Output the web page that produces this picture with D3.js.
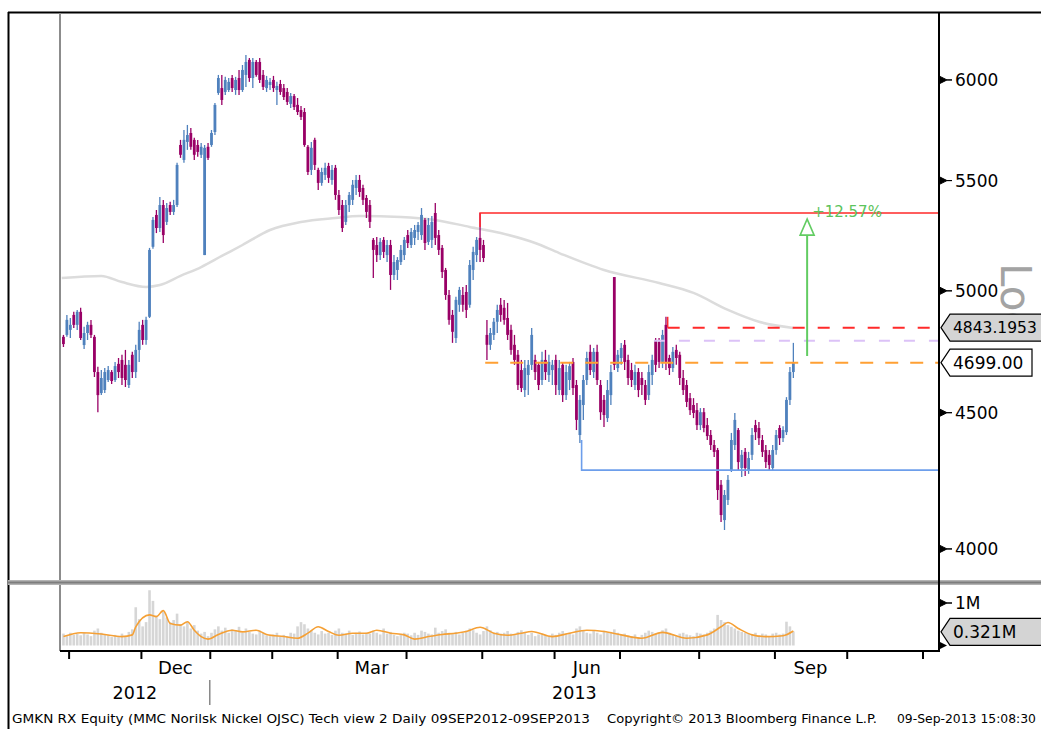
<!DOCTYPE html>
<html>
<head>
<meta charset="utf-8">
<script src="https://cdn.jsdelivr.net/npm/d3@7/dist/d3.min.js"></script>
<style>
body { margin:0; background:#fff; }
svg { display:block; font-family:"DejaVu Sans", sans-serif; }
</style>
</head>
<body>
<div id="chart-area"></div>
<script>
// GMKN RX daily bars, one entry per trading day (index 0 = late Oct 2012, 212 = 09 Sep 2013)
const open = [
  4805,4813,4834,4897,4855,4910,4771,4821,4855,4805,
  4661,4577,4589,4629,4661,4629,4694,4710,4690,4609,
  4731,4661,4751,4855,4792,4889,5194,5339,5279,5385,
  5307,5385,5353,5385,5672,5599,5687,5731,5697,5672,
  5624,5157,5663,5672,5736,5933,5958,5938,5948,6010,
  5948,6010,5948,6026,6105,6010,6094,6094,6026,5958,
  5974,6000,5948,5979,5958,5938,5877,5917,5872,5846,
  5836,5663,5551,5697,5551,5489,5527,5570,5503,5561,
  5432,5385,5307,5385,5409,5465,5503,5465,5418,5385,
  5225,5202,5157,5225,5157,5202,5069,5091,5126,5157,
  5247,5202,5234,5261,5247,5316,5216,5225,5348,5247,
  5189,5091,4982,4897,4800,4940,4982,4995,4940,5091,
  5157,5234,5202,4813,4772,4813,4868,4940,4927,4884,
  4834,4772,4731,4669,4589,4649,4690,4710,4690,4629,
  4710,4649,4669,4710,4589,4690,4569,4629,4702,4609,
  4414,4530,4629,4743,4661,4743,4609,4550,4479,4569,
  5060,4677,4718,4772,4710,4669,4609,4661,4637,4609,
  4569,4649,4792,4784,4702,4855,4718,4677,4751,4731,
  4637,4609,4557,4530,4510,4452,4502,4452,4414,4376,
  4357,4228,4101,4173,4282,4376,4433,4290,4350,4282,
  4339,4452,4441,4395,4357,4339,4290,4357,4441,4402,
  4425,4550,4661];
const high = [
  4813,4897,4884,4910,4918,4927,4847,4868,4876,4813,
  4682,4669,4677,4685,4669,4702,4718,4731,4751,4710,
  4743,4772,4868,4876,4889,5189,5330,5362,5423,5409,
  5395,5400,5409,5585,5697,5746,5771,5756,5707,5697,
  5682,5672,5682,5746,5882,6026,6026,6016,6010,6026,
  6016,6052,6078,6131,6115,6115,6105,6115,6052,6021,
  6010,6021,5990,6000,5979,5958,5933,5928,5907,5866,
  5856,5672,5687,5707,5561,5561,5585,5585,5575,5575,
  5456,5409,5409,5446,5503,5527,5527,5480,5432,5409,
  5234,5238,5234,5238,5225,5225,5157,5148,5202,5238,
  5270,5279,5293,5307,5371,5325,5325,5334,5395,5270,
  5202,5100,5004,4918,4974,5017,5017,5025,5135,5194,
  5238,5348,5225,4876,4842,4884,4940,4969,4961,4948,
  4855,4813,4751,4710,4710,4710,4842,4731,4702,4743,
  4751,4731,4710,4731,4710,4702,4690,4702,4718,4629,
  4569,4649,4743,4772,4759,4772,4629,4569,4629,4690,
  5060,4751,4780,4792,4731,4698,4690,4677,4661,4629,
  4690,4731,4800,4800,4834,4889,4731,4763,4772,4743,
  4669,4629,4577,4557,4538,4518,4518,4479,4433,4395,
  4365,4246,4209,4264,4422,4499,4441,4357,4365,4350,
  4441,4472,4464,4414,4376,4357,4376,4433,4452,4448,
  4561,4681,4780];
const low = [
  4763,4805,4800,4842,4834,4792,4755,4792,4800,4641,
  4502,4569,4577,4621,4613,4621,4637,4609,4601,4597,
  4637,4637,4702,4772,4772,4884,5185,5256,5261,5211,
  5293,5339,5339,5376,5609,5585,5648,5648,5599,5614,
  5609,5157,5599,5663,5721,5923,5872,5923,5938,5938,
  5923,5923,5938,5964,5990,5958,6016,5984,5948,5938,
  5948,5938,5872,5923,5897,5872,5856,5846,5821,5796,
  5663,5527,5527,5551,5456,5475,5503,5489,5480,5409,
  5339,5261,5293,5353,5385,5432,5423,5385,5325,5279,
  5056,5126,5135,5144,5126,5004,5047,5047,5113,5135,
  5189,5189,5202,5225,5225,5180,5202,5189,5202,5157,
  5056,4961,4855,4780,4780,4910,4910,4884,4927,5047,
  5126,5126,5126,4710,4751,4792,4821,4868,4855,4792,
  4731,4690,4589,4581,4561,4569,4669,4629,4589,4609,
  4629,4621,4609,4569,4569,4542,4550,4589,4569,4433,
  4384,4472,4609,4649,4637,4609,4472,4445,4464,4530,
  4669,4661,4690,4669,4609,4601,4589,4561,4569,4530,
  4550,4609,4661,4677,4677,4669,4649,4661,4690,4609,
  4569,4522,4491,4479,4433,4433,4425,4395,4357,4331,
  4173,4094,4066,4155,4275,4357,4282,4257,4260,4268,
  4320,4395,4376,4331,4290,4282,4282,4339,4376,4387,
  4414,4530,4637];
const close = [
  4775,4876,4855,4855,4910,4800,4821,4855,4813,4661,
  4569,4637,4661,4669,4625,4685,4661,4637,4629,4690,
  4661,4751,4834,4792,4876,5180,5316,5279,5385,5247,
  5371,5353,5385,5575,5624,5697,5721,5663,5624,5638,
  5663,5658,5609,5731,5872,6010,5897,6000,5990,5958,
  6000,5948,6052,6094,6010,6094,6026,6000,5964,6000,
  5990,5958,5969,5938,5912,5887,5917,5861,5836,5811,
  5672,5541,5658,5575,5489,5541,5561,5513,5551,5432,
  5362,5279,5385,5432,5480,5503,5446,5409,5353,5307,
  5180,5157,5216,5171,5202,5069,5126,5135,5180,5225,
  5211,5261,5270,5293,5339,5211,5293,5307,5234,5180,
  5082,4982,4876,4826,4961,5004,4940,4918,5113,5171,
  5225,5180,5144,4772,4821,4868,4918,4897,4876,4813,
  4751,4710,4609,4597,4677,4690,4813,4661,4609,4710,
  4661,4702,4690,4609,4677,4569,4661,4685,4597,4472,
  4550,4629,4718,4669,4743,4629,4502,4491,4589,4661,
  4690,4731,4759,4702,4637,4629,4661,4589,4609,4550,
  4661,4710,4690,4702,4813,4702,4677,4743,4718,4637,
  4589,4542,4510,4499,4452,4502,4441,4410,4376,4350,
  4209,4119,4191,4246,4395,4472,4312,4339,4290,4327,
  4414,4425,4402,4350,4312,4301,4357,4414,4402,4433,
  4550,4661,4699];
// volume in millions of shares
const volume = [
  0.28,0.22,0.30,0.25,0.27,0.24,0.30,0.26,0.22,0.35,
  0.40,0.30,0.26,0.24,0.20,0.25,0.22,0.28,0.20,0.32,
  0.38,0.90,0.62,0.45,0.55,1.30,1.05,0.70,0.62,0.80,
  0.66,0.55,0.60,0.75,0.50,0.45,0.55,0.40,0.48,0.35,
  0.28,0.32,0.22,0.30,0.38,0.45,0.35,0.42,0.30,0.38,
  0.36,0.44,0.30,0.40,0.32,0.28,0.26,0.35,0.30,0.24,
  0.22,0.26,0.30,0.20,0.25,0.22,0.30,0.28,0.45,0.55,
  0.50,0.40,0.35,0.30,0.26,0.34,0.28,0.30,0.25,0.35,
  0.40,0.30,0.28,0.35,0.25,0.30,0.33,0.26,0.30,0.28,
  0.35,0.30,0.26,0.40,0.28,0.32,0.25,0.22,0.26,0.30,
  0.28,0.24,0.30,0.25,0.35,0.32,0.28,0.26,0.42,0.30,
  0.34,0.38,0.30,0.28,0.32,0.26,0.30,0.35,0.40,0.36,
  0.30,0.26,0.34,0.45,0.36,0.30,0.32,0.28,0.30,0.34,
  0.28,0.26,0.32,0.36,0.30,0.25,0.30,0.22,0.26,0.28,
  0.24,0.22,0.28,0.25,0.30,0.34,0.28,0.30,0.26,0.40,
  0.45,0.36,0.30,0.28,0.34,0.30,0.26,0.35,0.30,0.32,
  0.38,0.30,0.26,0.28,0.24,0.22,0.26,0.20,0.25,0.30,
  0.35,0.32,0.28,0.30,0.36,0.40,0.30,0.26,0.22,0.28,
  0.30,0.26,0.24,0.22,0.30,0.28,0.26,0.30,0.35,0.40,
  0.72,0.60,0.55,0.48,0.44,0.40,0.35,0.32,0.30,0.28,
  0.26,0.30,0.24,0.28,0.26,0.22,0.28,0.30,0.26,0.28,
  0.56,0.45,0.33];
// volume moving average (orange), read at these bar indices
const volMaIdx = [0,5,11,17,20,21,25,27,29,31,34,36,38,40,42,45,49,52,56,59,64,68,71,74,77,80,84,88,91,95,
  99,102,106,110,114,117,121,125,129,133,136,142,147,152,157,162,168,174,181,187,191,193,196,200,204,209,212];
const volMaVal = [0.21,0.30,0.27,0.21,0.25,0.44,0.72,0.68,0.82,0.52,0.48,0.56,0.36,0.21,0.15,0.26,0.36,0.32,0.36,0.26,
  0.21,0.17,0.29,0.44,0.33,0.24,0.29,0.29,0.36,0.29,0.25,0.15,0.21,0.26,0.29,0.33,0.43,0.29,0.24,0.29,
  0.33,0.21,0.29,0.36,0.33,0.25,0.17,0.31,0.17,0.25,0.44,0.54,0.40,0.25,0.21,0.23,0.34];
// 200-day moving average of price (grey)
const maIdx = [-0.5,11,17,24,28,34,40,46,52,60,69,79,86,98,108,118,127,137,144,157,173,183,193,202,212];
const maVal = [5056,5065,5038,5017,5025,5065,5104,5153,5202,5270,5307,5325,5334,5330,5316,5284,5256,5211,5166,5091,5034,4991,4918,4868,4842];

// axis ticks
const priceTicks = [4000, 4500, 5000, 5500, 6000];
const volTicks = [1];
const monthStart = [2, 23, 43, 61, 80, 100, 122, 143, 162, 185, 207, 228, 250];
const monthLabels = [{name:"Dec", from:23, to:43}, {name:"Mar", from:80, to:100}, {name:"Jun", from:143, to:162}, {name:"Sep", from:207, to:228}];
const yearLabels = [{name:"2012", from:-0.5, to:43}, {name:"2013", from:43, to:254.8}];

// study lines
const resistance = 5348, resistanceIdx = 121;
const support = 4282, supportFrom = 4395, supportIdx = 151;
const lastPrice = 4699, lastIdx = 123;
const redLevel = 4843.1953, redIdx = 176, redFrom = 4889;
const lilacLevel = 4789, lilacIdx = 172;
const arrowIdx = 216, arrowLow = 4726, arrowHigh = 5320, arrowLabel = "+12.57%";
const lastVolume = 0.321;

const full_width = 1041, full_height = 729;
const blue = "#4f81bd", magenta = "#990066";

const svg = d3.select("#chart-area").append("svg")
    .attr("width", full_width)
    .attr("height", full_height);

const x = d3.scaleLinear().domain([-0.5, 254.8]).range([60, 939]);
const y = d3.scaleLog().domain([3894, 6363]).range([580, 12]);
const vy = d3.scaleLinear().domain([0, 1]).range([645.5, 603]);
const xc = i => x(i + 0.5);

// frame
svg.append("line").attr("x1", 8).attr("x2", 1041).attr("y1", 12.5).attr("y2", 12.5).attr("stroke", "#000").attr("stroke-width", 2);
svg.append("line").attr("x1", 8.5).attr("x2", 8.5).attr("y1", 12).attr("y2", 729).attr("stroke", "#000").attr("stroke-width", 2);
svg.append("line").attr("x1", 60).attr("x2", 60).attr("y1", 13).attr("y2", 651).attr("stroke", "#8c8c8c").attr("stroke-width", 2);

// Log label (behind the price tags)
svg.append("text")
    .attr("transform", "translate(1001,263) rotate(90)")
    .attr("font-size", "42px").attr("fill", "#a3a3a3")
    .text("Log");

// 200d MA
svg.append("path")
    .datum(maIdx.map((d, k) => [d, maVal[k]]))
    .attr("fill", "none").attr("stroke", "#dcdcdc").attr("stroke-width", 2.5)
    .attr("d", d3.line().x(d => xc(d[0])).y(d => y(d[1])).curve(d3.curveMonotoneX));

// bars
const bars = open.map((o, i) => ({ i: i, o: o, h: high[i], l: low[i], c: close[i], v: volume[i] }));
const colour = d => d.c >= d.o ? blue : magenta;

svg.append("g").selectAll("line")
    .data(bars).enter().append("line")
    .attr("x1", d => xc(d.i)).attr("x2", d => xc(d.i))
    .attr("y1", d => y(d.h)).attr("y2", d => y(d.l))
    .attr("stroke", colour).attr("stroke-width", 1.3);

svg.append("g").selectAll("rect")
    .data(bars).enter().append("rect")
    .attr("x", d => xc(d.i) - 1.4)
    .attr("width", 2.8)
    .attr("y", d => y(Math.max(d.o, d.c)))
    .attr("height", d => Math.max(1, Math.abs(y(d.o) - y(d.c))))
    .attr("fill", colour);

// study lines
svg.append("path")
    .attr("d", d3.line()([[xc(resistanceIdx), y(high[resistanceIdx]) + 14], [xc(resistanceIdx), y(resistance)], [939, y(resistance)]]))
    .attr("fill", "none").attr("stroke", "#ff2a2a").attr("stroke-width", 1.5);

svg.append("path")
    .attr("d", d3.line()([[x(supportIdx), y(supportFrom)], [x(supportIdx), y(support)], [939, y(support)]]))
    .attr("fill", "none").attr("stroke", "#6d9eeb").attr("stroke-width", 1.6);

svg.append("line")
    .attr("x1", x(lastIdx)).attr("x2", 939).attr("y1", y(lastPrice)).attr("y2", y(lastPrice))
    .attr("stroke", "#ffa033").attr("stroke-width", 2).attr("stroke-dasharray", "13,12");

svg.append("line")
    .attr("x1", x(lilacIdx)).attr("x2", 939).attr("y1", y(lilacLevel)).attr("y2", y(lilacLevel))
    .attr("stroke", "#dcc2f7").attr("stroke-width", 2).attr("stroke-dasharray", "11,14");

svg.append("line")
    .attr("x1", x(redIdx)).attr("x2", x(redIdx)).attr("y1", y(redFrom)).attr("y2", y(redLevel))
    .attr("stroke", "#ff2a2a").attr("stroke-width", 1.5);
svg.append("line")
    .attr("x1", x(redIdx)).attr("x2", 939).attr("y1", y(redLevel)).attr("y2", y(redLevel))
    .attr("stroke", "#ff2a2a").attr("stroke-width", 2).attr("stroke-dasharray", "12,13");

// measuring arrow
const ax = xc(arrowIdx), atop = y(arrowHigh);
svg.append("line")
    .attr("x1", ax).attr("x2", ax).attr("y1", y(arrowLow)).attr("y2", atop + 16)
    .attr("stroke", "#62cc62").attr("stroke-width", 2);
svg.append("path")
    .attr("d", `M${ax},${atop} L${ax - 7},${atop + 16} L${ax + 7},${atop + 16} Z`)
    .attr("fill", "#fff").attr("stroke", "#62cc62").attr("stroke-width", 1.6);
svg.append("text")
    .attr("x", ax + 5).attr("y", y(resistance) + 4)
    .attr("font-size", "15px").attr("fill", "#5cc45c")
    .text(arrowLabel);

// panel separator
svg.append("rect").attr("x", 8).attr("y", 580).attr("width", 1033).attr("height", 5).attr("fill", "#b4b4b4");
svg.append("rect").attr("x", 8).attr("y", 581.5).attr("width", 1033).attr("height", 2).attr("fill", "#7d7d7d");

// volume
svg.append("g").selectAll("rect")
    .data(bars).enter().append("rect")
    .attr("x", d => xc(d.i) - 1.3)
    .attr("width", 2.6)
    .attr("y", d => vy(d.v))
    .attr("height", d => vy(0) - vy(d.v))
    .attr("fill", "#d6d6d6");

svg.append("path")
    .datum(volMaIdx.map((d, k) => [d, volMaVal[k]]))
    .attr("fill", "none").attr("stroke", "#f5a035").attr("stroke-width", 1.6)
    .attr("d", d3.line().x(d => xc(d[0])).y(d => vy(d[1])).curve(d3.curveMonotoneX));

// right axis
svg.append("line").attr("x1", 939).attr("x2", 939).attr("y1", 12).attr("y2", 652).attr("stroke", "#000").attr("stroke-width", 2);

const marker = yy => `M939,${yy - 4} L947,${yy} L952,${yy} L947,${yy} L939,${yy + 4} Z`;

const yAxis = svg.append("g")
    .attr("transform", "translate(939,0)")
    .call(d3.axisRight(y).tickValues(priceTicks).tickSize(0).tickPadding(16).tickFormat(d3.format("d")));
yAxis.select(".domain").remove();
yAxis.selectAll("text").attr("font-size", "17px").attr("font-family", "DejaVu Sans").attr("fill", "#000");
svg.selectAll(".pmark").data(priceTicks).enter().append("path")
    .attr("d", d => marker(y(d))).attr("fill", "#000").attr("stroke", "#000").attr("stroke-width", 1);

const vAxis = svg.append("g")
    .attr("transform", "translate(939,0)")
    .call(d3.axisRight(vy).tickValues(volTicks).tickSize(0).tickPadding(16).tickFormat(d => d + "M"));
vAxis.select(".domain").remove();
vAxis.selectAll("text").attr("font-size", "17px").attr("font-family", "DejaVu Sans").attr("fill", "#000");
svg.selectAll(".vmark").data(volTicks).enter().append("path")
    .attr("d", d => marker(vy(d))).attr("fill", "#000").attr("stroke", "#000").attr("stroke-width", 1);

// price tags
function tag(yy, txt, fill, right, size) {
    svg.append("path")
        .attr("d", `M941,${yy} L950,${yy - 13.5} L${right},${yy - 13.5} L${right},${yy + 13.5} L950,${yy + 13.5} Z`)
        .attr("fill", fill).attr("stroke", "#000").attr("stroke-width", 1.2);
    svg.append("text").attr("x", 953).attr("y", yy).attr("dy", "0.35em")
        .attr("font-size", size).attr("fill", "#000").text(txt);
}
tag(y(redLevel), d3.format(".4f")(redLevel), "#d4d4d4", 1046, "15.5px");
tag(y(lastPrice), d3.format(".2f")(lastPrice), "#fff", 1032, "17px");
tag(vy(lastVolume), d3.format(".3f")(lastVolume) + "M", "#d4d4d4", 1046, "17px");
svg.append("path").attr("d", marker(vy(0))).attr("fill", "#000");

// bottom axis
svg.append("line").attr("x1", 60).attr("x2", 940).attr("y1", 651).attr("y2", 651).attr("stroke", "#000").attr("stroke-width", 2);
const xAxis = svg.append("g")
    .attr("transform", "translate(0,652)")
    .call(d3.axisBottom(x).tickValues(monthStart).tickSize(7).tickFormat(""));
xAxis.select(".domain").remove();
xAxis.selectAll("line").attr("stroke", "#000").attr("stroke-width", 2);

svg.selectAll(".month").data(monthLabels).enter().append("text")
    .attr("x", d => (x(d.from) + x(d.to)) / 2).attr("y", 674)
    .attr("text-anchor", "middle").attr("font-size", "18px").attr("fill", "#000")
    .text(d => d.name);

svg.selectAll(".year").data(yearLabels).enter().append("text")
    .attr("x", d => (x(d.from) + x(d.to)) / 2).attr("y", 699)
    .attr("text-anchor", "middle").attr("font-size", "17.5px").attr("fill", "#000")
    .text(d => d.name);
svg.append("line").attr("x1", x(43)).attr("x2", x(43)).attr("y1", 680).attr("y2", 705).attr("stroke", "#888").attr("stroke-width", 1.5);

// footer
const footer = [
    { t: "GMKN RX Equity (MMC Norilsk Nickel OJSC) Tech view 2  Daily 09SEP2012-09SEP2013", x: 12, w: 578 },
    { t: "Copyright\u00A9 2013 Bloomberg Finance L.P.", x: 607, w: 270 },
    { t: "09-Sep-2013 15:08:30", x: 897, w: 139 }
];
svg.selectAll(".foot").data(footer).enter().append("text")
    .attr("x", d => d.x).attr("y", 723)
    .attr("font-size", "12.3px").attr("fill", "#000")
    .attr("textLength", d => d.w).attr("lengthAdjust", "spacingAndGlyphs")
    .text(d => d.t);
</script>
</body>
</html>
